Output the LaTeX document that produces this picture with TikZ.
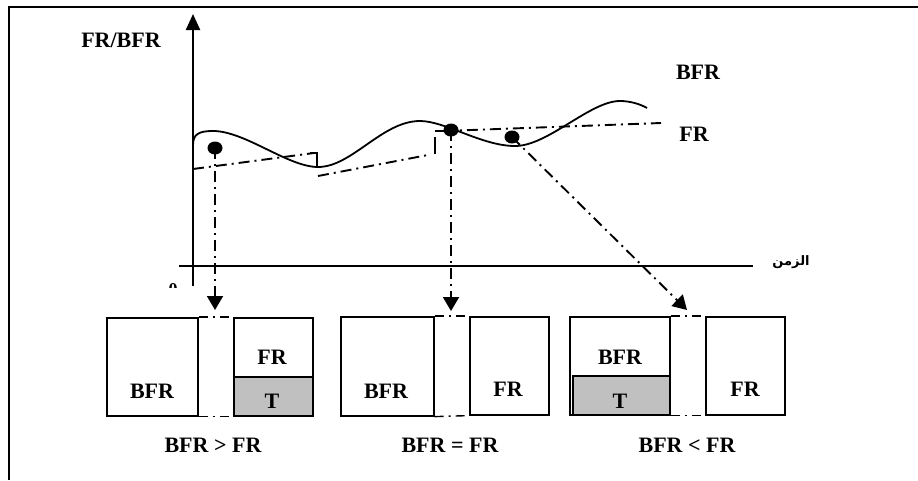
\documentclass[tikz,border=0pt]{standalone}
\usepackage{fontspec}
\setmainfont{Liberation Serif}
\newfontfamily\arabicfont[Script=Arabic]{DejaVu Sans}
\TeXXeTstate=1
\usetikzlibrary{arrows.meta,shapes.geometric}
\begin{document}
\begin{tikzpicture}[x=1pt,y=-1pt,
  lbl/.style={font=\bfseries\fontsize{22}{24}\selectfont, inner sep=0pt},
  boxnode/.style={draw, line width=1.6pt, inner sep=0pt, anchor=north west},
  tnode/.style={boxnode, fill=graybox},
  dotnode/.style={ellipse, fill=black, minimum width=15pt, minimum height=13pt, inner sep=0pt},
  dd/.style={line width=1.9pt, dash pattern=on 11pt off 5pt on 2pt off 5pt},
  ddthin/.style={line width=1.4pt, dash pattern=on 9pt off 5pt on 2pt off 5pt},
  axis/.style={line width=2.2pt},
  tip/.style={-{Triangle[width=16pt,length=14pt]}}
]
\definecolor{graybox}{HTML}{C0C0C0}
\useasboundingbox (0,0) rectangle (918,480);
\fill[white] (0,0) rectangle (918,480);
% frame (top and left visible)
\draw[line width=2.4pt] (9,480) -- (9,7) -- (918,7);

% axes
\coordinate (yb) at (193,286);
\coordinate (yt) at (193,14);
\draw[axis, -{Triangle[width=14pt,length=16pt]}] (yb) -- (yt);
\coordinate (xl) at (179,266);
\coordinate (xr) at (753,266);
\draw[axis] (xl) -- (xr);
\begin{scope}
\clip (160,270) rectangle (188,287.5);
\node[font=\bfseries\fontsize{18}{20}\selectfont, inner sep=0pt] (zero) at (173,290) {0};
\end{scope}
\node[font=\arabicfont\bfseries\fontsize{13}{15}\selectfont, inner sep=0pt] (zaman) at (791,262) {\beginR الزمن\endR};

% labels
\node[lbl] (lfrbfr) at (121,40) {FR/BFR};
\node[lbl] (lbfr) at (698,72) {BFR};
\node[lbl] (lfr) at (694,134) {FR};

% BFR curve
\draw[line width=1.8pt] (193,145) .. controls (193,134) and (199,131) .. (213,131)
  .. controls (245,131) and (288,167) .. (318,167)
  .. controls (352,167) and (382,121) .. (420,121)
  .. controls (445,121) and (482,146) .. (515,146)
  .. controls (548,146) and (590,101) .. (620,101)
  .. controls (630,101) and (640,104) .. (647,108);

% FR line
\draw[dd] (193,169) -- (314,153);
\draw[line width=1.9pt] (310,153) -- (317,153) -- (317,167);
\draw[dd] (318,176) -- (428,155);
\draw[line width=1.9pt] (435,154) -- (435,137);
\draw[line width=1.9pt] (435,131) -- (444,131);
\draw[dd] (444,131) -- (661,123);

% dots
\node[dotnode] (d1) at (215,148) {};
\node[dotnode] (d2) at (451,130) {};
\node[dotnode] (d3) at (512,137) {};

% tips
\coordinate (t1) at (215,310);
\coordinate (t2) at (451,311);
\coordinate (t3) at (687,310);
\draw[dd, tip] (d1.center) -- (t1);
\draw[dd, tip] (d2.center) -- (t2);
\draw[dd, tip] (d3.center) -- (t3);

% group 1
\node[boxnode, minimum width=91pt, minimum height=98pt] (b1L) at (106,317) {};
\node[boxnode, minimum width=79pt, minimum height=98pt] (b1R) at (233,317) {};
\node[tnode, minimum width=79pt, minimum height=39pt] (b1T) at (233,376) {};
\draw[ddthin] (b1L.north east) -- (b1R.north west);
\draw[ddthin] (b1L.south east) -- (b1R.south west);
\node[lbl] (g1bfr) at (152,391) {BFR};
\node[lbl] (g1fr) at (272,357) {FR};
\node[lbl] (g1t) at (272,401) {T};
\node[lbl] (c1) at (213,445) {BFR > FR};

% group 2
\node[boxnode, minimum width=93pt, minimum height=99pt] (b2L) at (340,316) {};
\node[boxnode, minimum width=79pt, minimum height=98pt] (b2R) at (469,316) {};
\draw[ddthin] (b2L.north east) -- (b2R.north west);
\draw[ddthin] (b2L.south east) -- (b2R.south west);
\node[lbl] (g2bfr) at (386,391) {BFR};
\node[lbl] (g2fr) at (508,389) {FR};
\node[lbl] (c2) at (450,445) {BFR = FR};

% group 3
\node[boxnode, minimum width=100pt, minimum height=98pt] (b3L) at (569,316) {};
\node[tnode, minimum width=97pt, minimum height=39pt] (b3T) at (572,375) {};
\node[boxnode, minimum width=79pt, minimum height=98pt] (b3R) at (705,316) {};
\draw[ddthin] (b3L.north east) -- (b3R.north west);
\draw[ddthin] (b3L.south east) -- (b3R.south west);
\node[lbl] (g3bfr) at (620,357) {BFR};
\node[lbl] (g3t) at (620,401) {T};
\node[lbl] (g3fr) at (745,389) {FR};
\node[lbl] (c3) at (687,445) {BFR < FR};
\end{tikzpicture}
\end{document}
